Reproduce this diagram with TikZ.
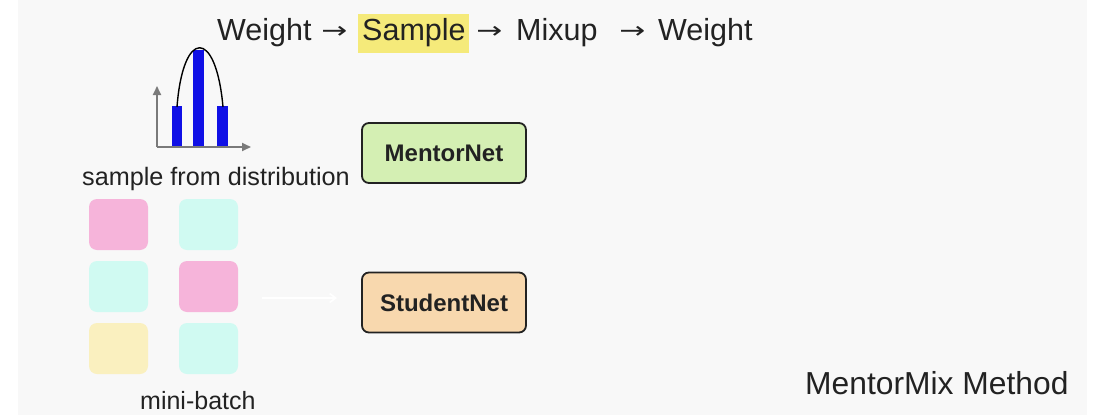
\documentclass[tikz,border=0pt]{standalone}
\usepackage{fontspec}
\setmainfont{Liberation Sans}
\newfontfamily\arrowfont{DejaVu Sans}
\usetikzlibrary{arrows.meta}
\definecolor{bgray}{HTML}{F8F8F8}
\definecolor{ink}{HTML}{222222}
\definecolor{hilite}{HTML}{F5EA7A}
\definecolor{mentorfill}{HTML}{D4EFB3}
\definecolor{studentfill}{HTML}{F8D8AE}
\definecolor{pinkcell}{HTML}{F6B4DA}
\definecolor{cyancell}{HTML}{D0FAF2}
\definecolor{yellowcell}{HTML}{FAF0BF}
\definecolor{barblue}{HTML}{1010E6}
\definecolor{axisgray}{HTML}{7A7A7A}
\tikzset{
  label/.style={inner sep=0pt, anchor=base west, text=ink},
  steparrow/.style={inner sep=0pt, anchor=base west, text=ink, xscale=1.35, font=\arrowfont\fontsize{23}{26}\selectfont},
  netbox/.style={draw=ink, line width=1.8pt, rounded corners=7pt, minimum width=164pt, minimum height=60pt, inner sep=0pt, text=ink, font=\bfseries\fontsize{24}{28}\selectfont},
  cell/.style={rounded corners=8pt, minimum width=59pt, minimum height=51pt, inner sep=0pt},
  axis/.style={draw=axisgray, line width=1.8pt, -{Triangle[length=9pt,width=8pt]}},
  bar/.style={fill=barblue, draw=none},
}
\begin{document}
\begin{tikzpicture}[x=1pt,y=-1pt]
\useasboundingbox (0,0) rectangle (1094,415);
\fill[white] (0,0) rectangle (1094,415);
\fill[bgray] (18,0) rectangle (1087,415);

% title with highlighted step
\fill[hilite] (358,14) rectangle (469,53);
\node[label, font=\fontsize{30.5}{36}\selectfont] (w1) at (217,40) {Weight};
\node[steparrow] (a1) at (321,38) {→};
\node[label, font=\fontsize{30.5}{36}\selectfont] (s1) at (362,40) {Sample};
\node[steparrow] (a2) at (476,38) {→};
\node[label, font=\fontsize{30.5}{36}\selectfont] (m1) at (516,40) {Mixup};
\node[steparrow] (a3) at (619,38) {→};
\node[label, font=\fontsize{30.5}{36}\selectfont] (w2) at (658,40) {Weight};

% distribution icon
\coordinate (org) at (157,147);
\coordinate (ytip) at (157,86);
\coordinate (xtip) at (251,147);
\fill[bar] (172,106) rectangle (182,147);
\fill[bar] (193,50) rectangle (204,147);
\fill[bar] (217,106) rectangle (228,147);
\draw[line width=1.4pt, black] (177,107) .. controls (183,28) and (216,28) .. (223,107);
\draw[axis] (org) -- (ytip);
\draw[axis] (org) -- (xtip);
\node[label, font=\fontsize{25.2}{30}\selectfont] (dist) at (82,185) {sample from distribution};

% networks
\node[netbox, fill=mentorfill] (mentor) at (444,153) {MentorNet};
\node[netbox, fill=studentfill] (student) at (444,302.5) {StudentNet};

% mini-batch cells
\node[cell, fill=pinkcell]   (c11) at (118.5,224.5) {};
\node[cell, fill=cyancell]   (c12) at (208.5,224.5) {};
\node[cell, fill=cyancell]   (c21) at (118.5,286.5) {};
\node[cell, fill=pinkcell]   (c22) at (208.5,286.5) {};
\node[cell, fill=yellowcell] (c31) at (118.5,348.5) {};
\node[cell, fill=cyancell]   (c32) at (208.5,348.5) {};
\node[label, font=\fontsize{25}{30}\selectfont] (mb) at (140,409) {mini-batch};

% faint feed arrow into the student network
\coordinate (feed) at (262,298);
\draw[white, line width=1.6pt, -{Straight Barb[length=6pt,width=9pt]}] (feed) -- (337,298);

\node[label, font=\fontsize{31.8}{36}\selectfont] (method) at (805,394) {MentorMix Method};
\end{tikzpicture}
\end{document}
